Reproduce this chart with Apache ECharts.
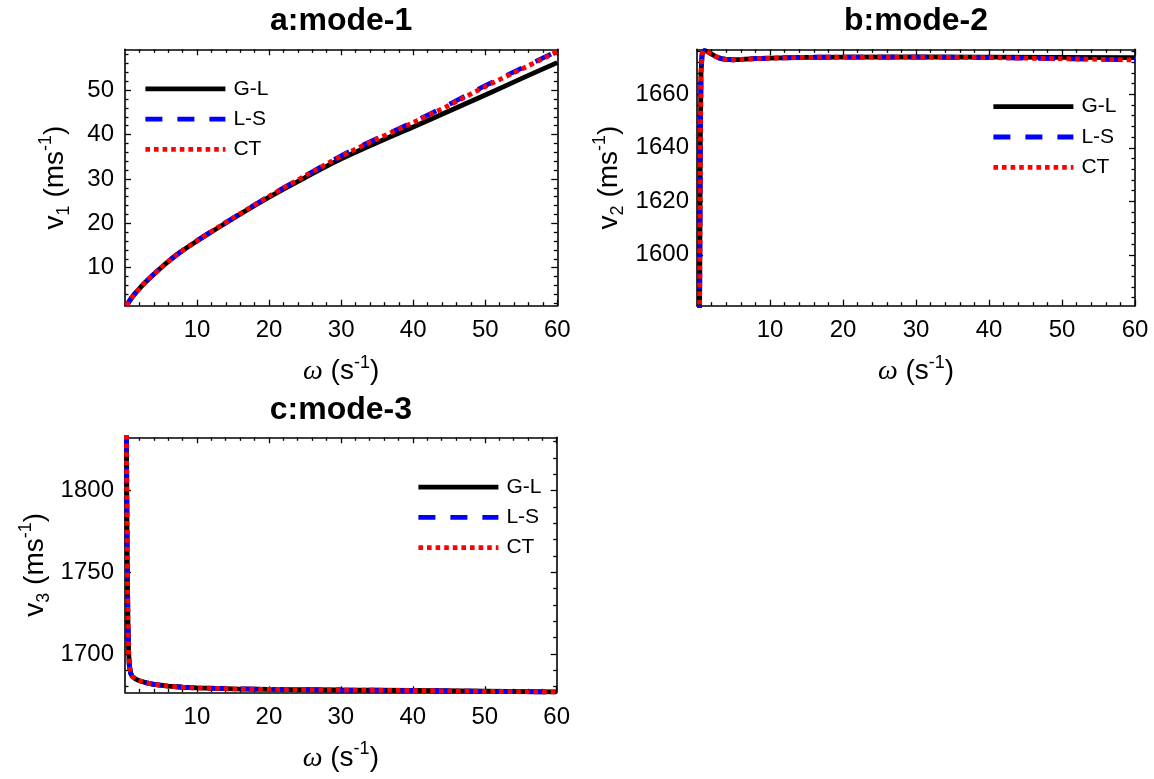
<!DOCTYPE html>
<html>
<head>
<meta charset="UTF-8">
<title>mode velocities</title>
<script src="https://cdn.jsdelivr.net/npm/echarts@6/dist/echarts.min.js"></script>
<style>
    html, body { margin: 0; padding: 0; background: #fff; }
    #chart { width: 1154px; height: 779px; }
</style>
</head>
<body>
<div id="chart"></div>
<script>
// ---- data ----
var names = ['G-L', 'L-S', 'CT'];
var titles = ['a:mode-1', 'b:mode-2', 'c:mode-3'];

// a: mode-1
var xA  = [0.2, 1, 2, 3, 5, 7, 10, 15, 20, 25, 30, 35, 40, 45, 50, 55, 60];
var glA = [1.44, 3.4, 5.3, 7.0, 10.0, 12.7, 16.0, 21.1, 25.9, 30.3, 34.5, 38.2, 41.7, 45.3, 48.9, 52.6, 56.2];
var lsA = [1.44, 3.4, 5.3, 7.0, 10.0, 12.7, 16.1, 21.2, 26.1, 30.7, 35.2, 39.1, 42.8, 46.8, 51.0, 54.9, 58.8];
var ctA = [1.44, 3.4, 5.3, 7.0, 10.0, 12.7, 16.1, 21.2, 26.1, 30.7, 35.1, 39.0, 42.7, 46.6, 50.8, 54.7, 58.7];

// b: mode-2
var xB  = [0.35, 0.45, 0.55, 0.7, 0.9, 1.2, 1.6, 2, 2.5, 3, 3.5, 4, 5, 6, 8, 10, 15, 20, 30, 40, 50, 60];
var glB = [1575, 1640, 1668, 1675, 1676.3, 1676.2, 1675.6, 1675.0, 1674.2, 1673.6, 1673.2, 1673.0, 1672.9, 1673.0, 1673.3, 1673.5, 1673.8, 1673.9, 1674.0, 1673.9, 1673.8, 1673.7];
var lsB = [1575, 1640, 1668, 1675, 1676.3, 1676.2, 1675.6, 1675.0, 1674.2, 1673.6, 1673.2, 1673.0, 1672.9, 1673.0, 1673.3, 1673.5, 1673.8, 1673.9, 1673.9, 1673.7, 1673.3, 1672.8];
var ctB = [1575, 1640, 1668, 1675, 1676.3, 1676.2, 1675.6, 1675.0, 1674.2, 1673.6, 1673.2, 1673.0, 1672.9, 1673.0, 1673.3, 1673.5, 1673.8, 1673.9, 1673.9, 1673.7, 1673.3, 1672.8];

// c: mode-3
var xC  = [0.2, 0.3, 0.4, 0.5, 0.6, 0.8, 1, 1.5, 2, 3, 4, 6, 8, 10, 15, 20, 30, 40, 50, 60];
var glC = [1834, 1765, 1722, 1702, 1693, 1688, 1686.3, 1684.6, 1683.6, 1682.3, 1681.4, 1680.3, 1679.6, 1679.2, 1678.6, 1678.3, 1677.9, 1677.6, 1677.2, 1676.7];
var lsC = [1834, 1765, 1722, 1702, 1693, 1688, 1686.3, 1684.6, 1683.6, 1682.3, 1681.4, 1680.3, 1679.6, 1679.2, 1678.6, 1678.3, 1677.9, 1677.6, 1677.1, 1676.6];
var ctC = [1834, 1765, 1722, 1702, 1693, 1688, 1686.3, 1684.6, 1683.6, 1682.3, 1681.4, 1680.3, 1679.6, 1679.2, 1678.6, 1678.3, 1677.9, 1677.6, 1677.1, 1676.6];

// tick labels
var xTicks  = [10, 20, 30, 40, 50, 60];
var yTicksA = [10, 20, 30, 40, 50];
var yTicksB = [1600, 1620, 1640, 1660];
var yTicksC = [1700, 1750, 1800];

// ---- helpers ----
var FONT = 'Liberation Sans';

function minorVals(a, b, step, skip) {
    var r = [];
    for (var v = a; v <= b + 1e-9; v += step) {
        if (Math.abs(v / skip - Math.round(v / skip)) > 1e-9) r.push(v);
    }
    return r;
}

function pairs(xs, ys) {
    return xs.map(function (x, i) { return [x, ys[i]]; });
}

var styles = [
    {color: '#000000', type: 'solid'},
    {color: '#0000ff', type: [17, 15]},
    {color: '#ff0000', type: [4.6, 4]}
];

var grids = [], xAxes = [], yAxes = [], series = [], legends = [], graphics = [];

function axis(gi, pos, min, max, ticks, len, showLine, showLabel, margin, name, nameGap) {
    return {
        type: 'value', gridIndex: gi, position: pos, min: min, max: max,
        axisLine: {show: showLine, onZero: false, lineStyle: {color: '#000', width: 1.6}},
        axisTick: {show: true, inside: true, length: len, customValues: ticks,
            lineStyle: {color: '#000', width: 1.3}},
        axisLabel: {show: showLabel, customValues: ticks, margin: margin, color: '#000',
            fontSize: 24, fontFamily: FONT, formatter: function (v) { return String(v); }},
        splitLine: {show: false},
        name: name || '', nameLocation: 'middle', nameGap: nameGap || 0,
        nameTextStyle: {
            color: '#000', fontFamily: FONT, fontSize: 28,
            rich: {
                n: {fontSize: 28, fontFamily: FONT, color: '#000', lineHeight: 36},
                w: {fontSize: 28, fontFamily: 'Liberation Serif', fontStyle: 'italic', color: '#000', lineHeight: 36},
                sup: {fontSize: 18, fontFamily: FONT, color: '#000', verticalAlign: 'top', lineHeight: 18},
                sub: {fontSize: 18, fontFamily: FONT, color: '#000', verticalAlign: 'bottom', lineHeight: 18}
            }
        },
        silent: true
    };
}

function addPanel(p) {
    var g = grids.length;
    grids.push({left: p.left, top: p.top, width: p.width, height: p.height});
    grids.push({left: p.left, top: p.top, width: p.width, height: p.height});

    var xMinor = minorVals(2, 58, 2, 10);
    var xi = xAxes.length, yi = yAxes.length;
    xAxes.push(axis(g, 'bottom', 0, 60, xTicks, 6, true, true, 13,
        '{w|\u03c9} {n|(s}{sup|-1}{n|)}', 48));
    xAxes.push(axis(g, 'top', 0, 60, xTicks, 6, true, false, 0));
    xAxes.push(axis(g + 1, 'bottom', 0, 60, xMinor, 3.5, false, false, 0));
    xAxes.push(axis(g + 1, 'top', 0, 60, xMinor, 3.5, false, false, 0));

    yAxes.push(axis(g, 'left', p.ymin, p.ymax, p.yTicks, 6, true, true, p.ymargin,
        '{n|v}{sub|' + p.idx + '}{n| (ms}{sup|-1}{n|)}', p.nameGap));
    yAxes.push(axis(g, 'right', p.ymin, p.ymax, p.yTicks, 6, true, false, 0));
    yAxes.push(axis(g + 1, 'left', p.ymin, p.ymax, p.yMinor, 3.5, false, false, 0));
    yAxes.push(axis(g + 1, 'right', p.ymin, p.ymax, p.yMinor, 3.5, false, false, 0));

    p.data.forEach(function (ys, k) {
        series.push({
            name: names[k], type: 'line', xAxisIndex: xi, yAxisIndex: yi,
            data: pairs(p.xs, ys), symbol: 'none', smooth: p.smooth, clip: true,
            lineStyle: {color: styles[k].color, type: styles[k].type, width: 4.8, cap: 'butt'},
            itemStyle: {color: styles[k].color},
            z: 2 + k
        });
    });

    legends.push({
        orient: 'vertical', left: p.legLeft, top: p.legTop, padding: 0,
        itemWidth: 80, itemHeight: 20, itemGap: 9.3,
        data: names, selectedMode: false,
        lineStyle: {width: 4.8},
        itemStyle: {color: 'transparent', borderWidth: 0, opacity: 0},
        textStyle: {fontSize: 21, color: '#000', fontFamily: FONT, padding: [0, 0, 0, 3], lineHeight: 20}
    });

    graphics.push({
        type: 'text', x: p.left + p.width / 2, y: p.titleY, silent: true,
        style: {text: titles[p.idx - 1], fill: '#000', font: 'bold 32px "Liberation Sans"',
            align: 'center', verticalAlign: 'middle'}
    });
}

addPanel({idx: 1, left: 125, top: 49.3, width: 432.3, height: 256.4,
    ymin: 1.44, ymax: 59.2, yTicks: yTicksA, yMinor: minorVals(2, 58, 2, 10), ymargin: 11, nameGap: 52,
    xs: xA, data: [glA, lsA, ctA], smooth: 0.3, legLeft: 143, legTop: 78.3, titleY: 21});
addPanel({idx: 2, left: 697, top: 49.3, width: 438, height: 256.4,
    ymin: 1581, ymax: 1676.8, yTicks: yTicksB, yMinor: minorVals(1584, 1676, 4, 20), ymargin: 8, nameGap: 70,
    xs: xB, data: [glB, lsB, ctB], smooth: false, legLeft: 991, legTop: 96.2, titleY: 21});
addPanel({idx: 3, left: 125, top: 437.3, width: 431.7, height: 255,
    ymin: 1676.5, ymax: 1832.6, yTicks: yTicksC, yMinor: minorVals(1680, 1830, 10, 50), ymargin: 11, nameGap: 72,
    xs: xC, data: [glC, lsC, ctC], smooth: false, legLeft: 416, legTop: 476.6, titleY: 410});

var chart = echarts.init(document.getElementById('chart'), null, {renderer: 'canvas'});
chart.setOption({
    animation: false,
    backgroundColor: '#fff',
    grid: grids,
    xAxis: xAxes,
    yAxis: yAxes,
    legend: legends,
    graphic: graphics,
    series: series
});
</script>
</body>
</html>
